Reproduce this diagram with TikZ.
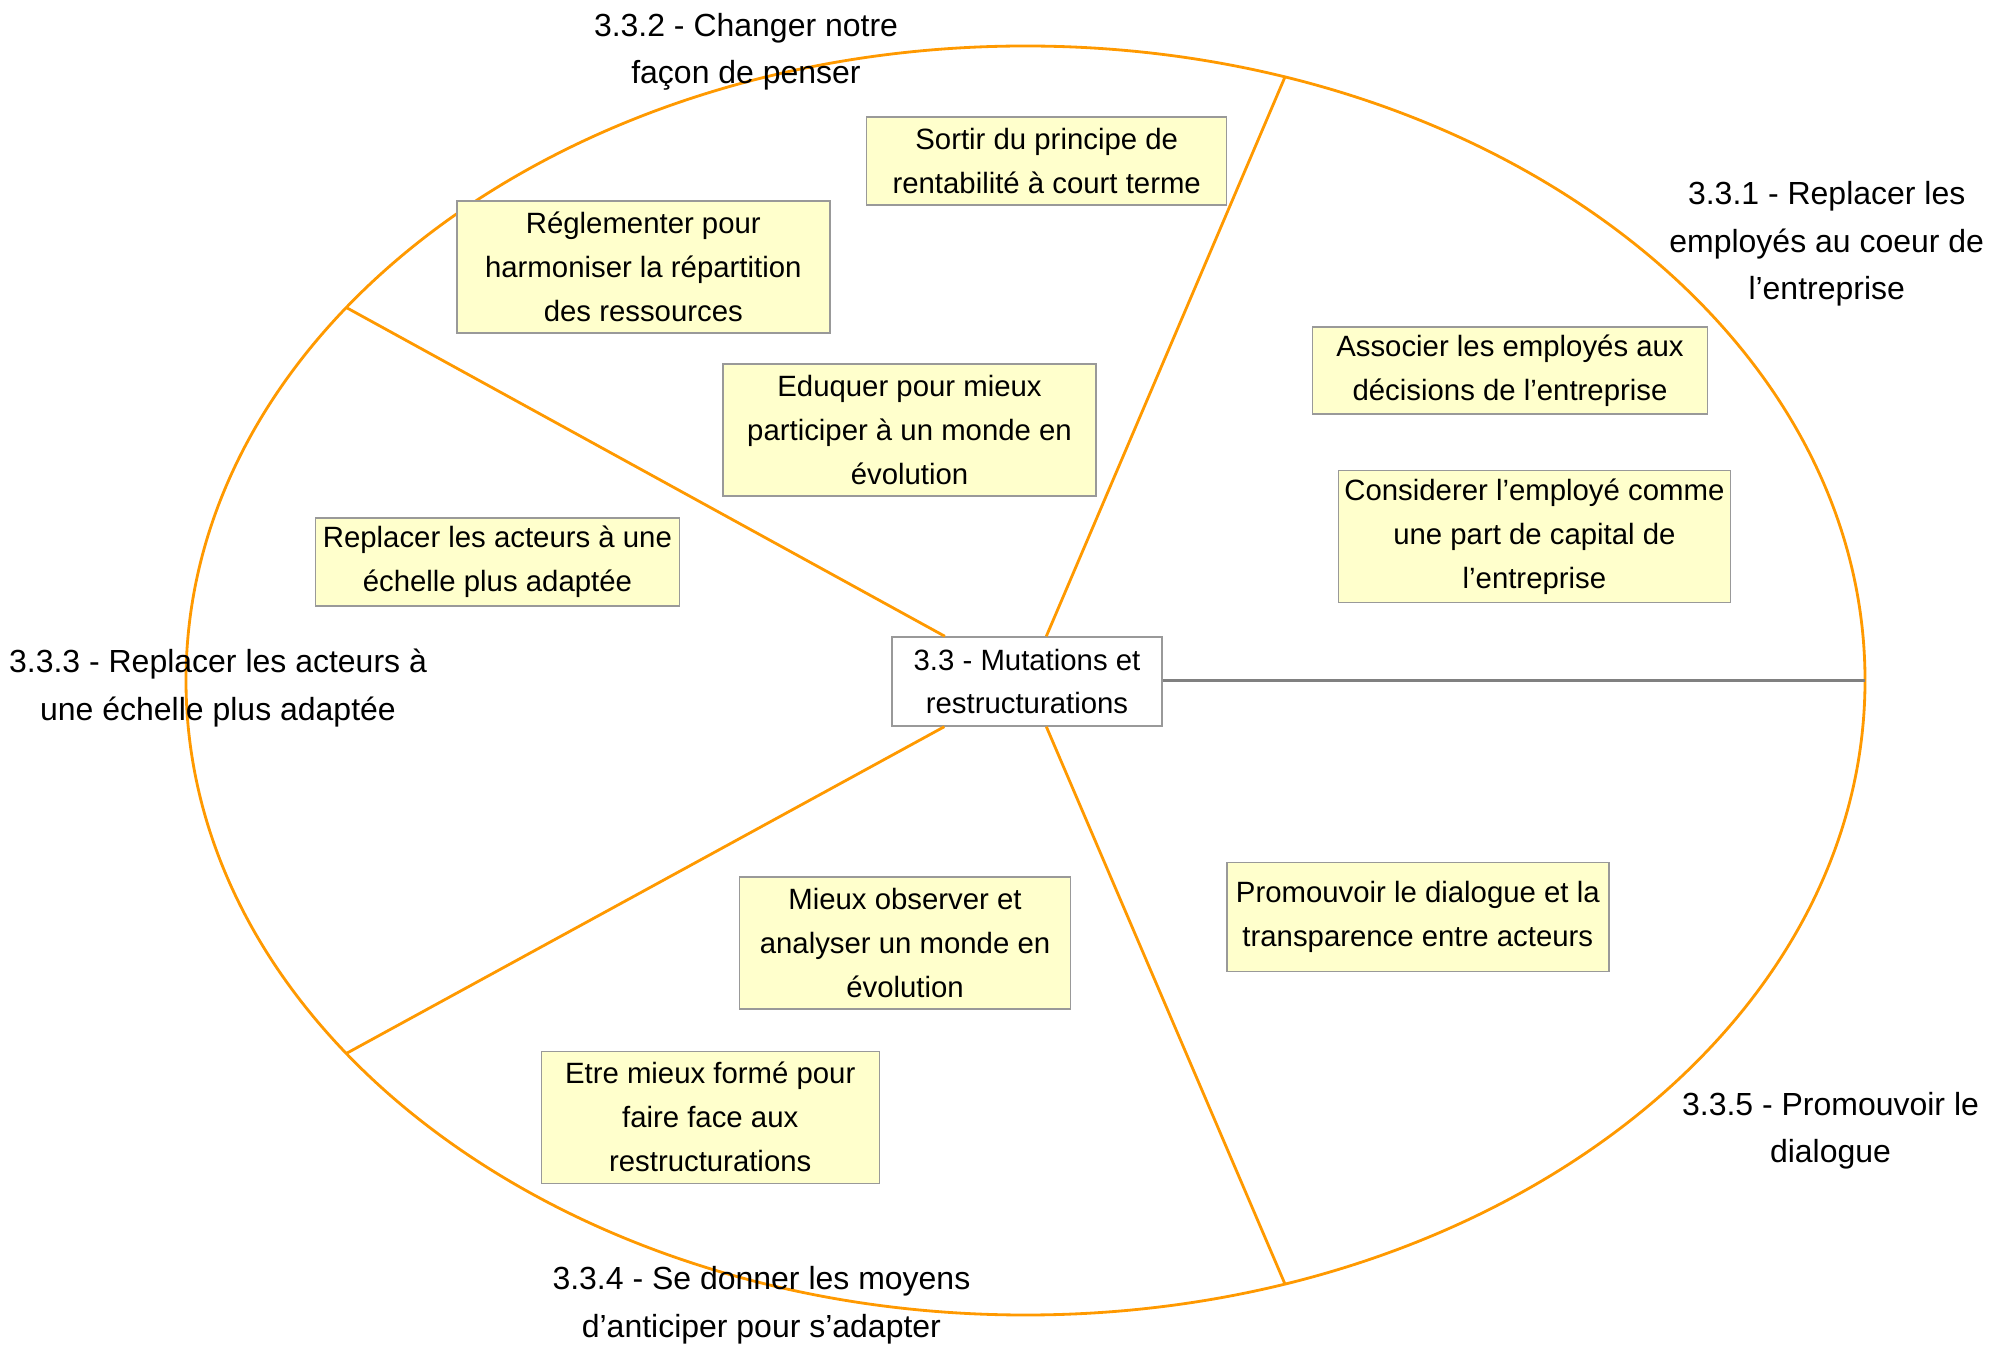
\documentclass[tikz,border=0pt]{standalone}
\usepackage{fontspec}
\setmainfont{Liberation Sans}
\usetikzlibrary{positioning}

\definecolor{rimorange}{HTML}{FF9900}
\definecolor{noteyellow}{HTML}{FFFFCC}

\begin{document}
\begin{tikzpicture}[
    rim/.style={draw=rimorange, line width=0.8pt},
    spoke/.style={draw=black!50, line width=1pt},
    note/.style={draw=black!40, fill=noteyellow, inner sep=0pt, align=center, font=\fontsize{8.35}{12.5}\selectfont},
    hub/.style={draw=black!40, fill=white, inner sep=0pt, align=center, font=\fontsize{8.35}{12.5}\selectfont},
    theme/.style={align=center, inner sep=0pt, font=\fontsize{9.1}{13.5}\selectfont}
]
\useasboundingbox (0,0) rectangle (20.1,13.45);

% Outer ellipse
\coordinate (O) at (10.255,6.645);
\draw[rim] (O) ellipse [x radius=8.395, y radius=6.345];

% Points on the rim, every 72 degrees
\path (O) ++(0:8.395 and 6.345) coordinate (r0);
\path (O) ++(72:8.395 and 6.345) coordinate (r1);
\path (O) ++(144:8.395 and 6.345) coordinate (r2);
\path (O) ++(216:8.395 and 6.345) coordinate (r3);
\path (O) ++(288:8.395 and 6.345) coordinate (r4);

% Central node
\node[hub, minimum width=2.70cm, minimum height=0.89cm] (mut) at (10.27,6.635) {3.3 - Mutations et\\restructurations};

\draw[spoke] (mut.east |- r0) -- (r0);
\draw[rim] (mut) -- (r1);
\draw[rim] (mut) -- (r2);
\draw[rim] (mut) -- (r3);
\draw[rim] (mut) -- (r4);

% Notes
\node[note, minimum width=3.60cm, minimum height=0.88cm] (rentab) at (10.467,11.841) {Sortir du principe de\\rentabilité à court terme};
\node[note, minimum width=3.73cm, minimum height=1.32cm] (reglem) at (6.433,10.778) {Réglementer pour\\harmoniser la répartition\\des ressources};
\node[note, minimum width=3.73cm, minimum height=1.32cm] (eduq) at (9.095,9.15) {Eduquer pour mieux\\participer à un monde en\\évolution};
\node[note, minimum width=3.64cm, minimum height=0.88cm] (echelle) at (4.974,7.829) {Replacer les acteurs à une\\échelle plus adaptée};
\node[note, minimum width=3.95cm, minimum height=0.87cm] (assoc) at (15.10,9.745) {Associer les employés aux\\décisions de l’entreprise};
\node[note, minimum width=3.92cm, minimum height=1.32cm] (capital) at (15.344,8.085) {Considerer l’employé comme\\une part de capital de\\l’entreprise};
\node[note, minimum width=3.82cm, minimum height=1.09cm] (transp) at (14.178,4.278) {Promouvoir le dialogue et la\\transparence entre acteurs};
\node[note, minimum width=3.31cm, minimum height=1.32cm] (observ) at (9.05,4.021) {Mieux observer et\\analyser un monde en\\évolution};
\node[note, minimum width=3.38cm, minimum height=1.32cm] (forme) at (7.102,2.278) {Etre mieux formé pour\\faire face aux\\restructurations};

% Sector titles
\node[theme] (t332) at (7.46,12.93) {3.3.2 - Changer notre\\façon de penser};
\node[theme] (t331) at (18.267,11.01) {3.3.1 - Replacer les\\employés au coeur de\\l’entreprise};
\node[theme] (t333) at (2.18,6.57) {3.3.3 - Replacer les acteurs à\\une échelle plus adaptée};
\node[theme] (t334) at (7.614,0.40) {3.3.4 - Se donner les moyens\\d’anticiper pour s’adapter};
\node[theme] (t335) at (18.305,2.14) {3.3.5 - Promouvoir le\\dialogue};

\end{tikzpicture}
\end{document}
